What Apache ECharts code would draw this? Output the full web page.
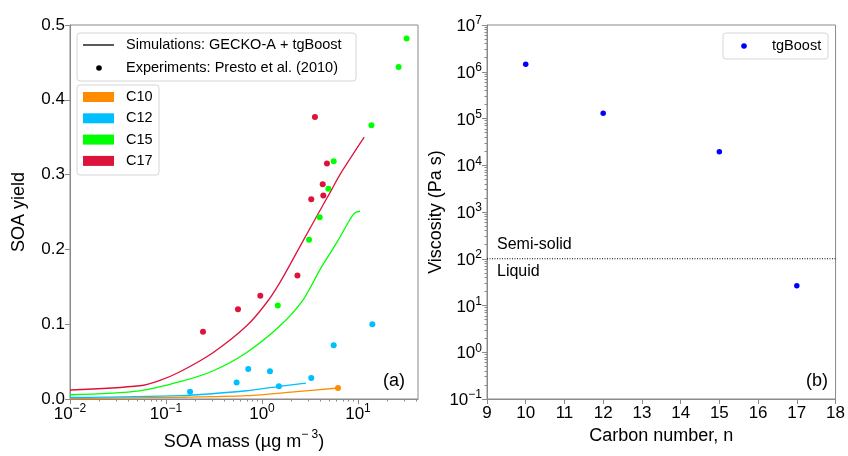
<!DOCTYPE html>
<html><head><meta charset="utf-8">
<script src="https://cdn.jsdelivr.net/npm/echarts@6/dist/echarts.min.js"></script>
<style>html,body{margin:0;padding:0;background:#fff}#c{width:848px;height:456px}</style>
</head><body><div id="c"></div>
<script>
// ---- Panel (a): simulations (lines) ----
const c10SimX = [0.01, 0.140, 0.693, 2.30, 6.19];
const c10SimY = [0.0005, 0.0023, 0.0044, 0.0098, 0.0147];
const c12SimX = [0.01, 0.140, 0.693, 1.54, 2.87];
const c12SimY = [0.002, 0.0044, 0.011, 0.017, 0.0213];
const c15SimX = [0.01, 0.0536, 0.140, 0.311, 0.693, 1.54, 2.69, 4.02, 6.00, 8.25, 9.31, 10.5];
const c15SimY = [0.0057, 0.011, 0.0231, 0.0378, 0.0622, 0.0978, 0.133, 0.173, 0.209, 0.240, 0.249, 0.251];
const c17SimX = [0.01, 0.0536, 0.0866, 0.140, 0.311, 0.693, 1.12, 1.54, 2.30, 3.42, 5.32, 6.49, 11.6];
const c17SimY = [0.012, 0.0177, 0.025, 0.0364, 0.0622, 0.0978, 0.129, 0.156, 0.196, 0.236, 0.280, 0.300, 0.350];
// ---- Panel (a): experiments (points) ----
const c10ExpX = [6.19];
const c10ExpY = [0.0147];
const c12ExpX = [0.178, 0.544, 0.719, 1.21, 1.50, 3.26, 5.58, 14.1];
const c12ExpY = [0.0097, 0.022, 0.040, 0.037, 0.017, 0.028, 0.072, 0.100];
const c15ExpX = [1.46, 3.09, 3.99, 4.91, 5.58, 13.8, 26.5, 32.1];
const c15ExpY = [0.125, 0.213, 0.243, 0.281, 0.318, 0.366, 0.444, 0.482];
const c17ExpX = [0.243, 0.562, 0.96, 2.34, 3.26, 3.56, 4.29, 4.35, 4.75];
const c17ExpY = [0.090, 0.120, 0.138, 0.165, 0.267, 0.377, 0.287, 0.272, 0.315];
// ---- Panel (b) ----
const carbonNumber = [10, 12, 15, 17];
const viscosity = [1.45e6, 1.3e5, 1.95e4, 26.6];
const semiSolidThreshold = 100;
// ---- tick helpers ----
const minorMult = [2, 3, 4, 5, 6, 7, 8, 9];
const leftMinorDecades = [0.01, 0.1, 1, 10];
const rightMinorDecades = [0.1, 1, 10, 100, 1e3, 1e4, 1e5, 1e6];

const catNames = ['C10', 'C12', 'C15', 'C17'];
const catColors = ['#ff8c00', '#00bfff', '#00ff00', '#dc143c'];
const simX = [c10SimX, c12SimX, c15SimX, c17SimX];
const simY = [c10SimY, c12SimY, c15SimY, c17SimY];
const expX = [c10ExpX, c12ExpX, c15ExpX, c17ExpX];
const expY = [c10ExpY, c12ExpY, c15ExpY, c17ExpY];

const FONT = 'Liberation Sans, Arial, sans-serif';
const AXC = '#8a8a8a';
const zip = (a, b) => a.map((v, i) => [v, b[i]]);
const leftMinor = [];
leftMinorDecades.forEach(d => minorMult.forEach(m => { const v = d * m; if (v < 42) leftMinor.push(v); }));
const rightMinor = [];
rightMinorDecades.forEach(d => minorMult.forEach(m => rightMinor.push(d * m)));

function powLabel(v) {
  const l = Math.log10(v), e = Math.round(l);
  if (Math.abs(l - e) > 1e-6) return '';
  return '{b|10}{s|' + (e < 0 ? '\u2212' + (-e) : e) + '}';
}
const powRich = {
  b: { fontSize: 17, fontFamily: FONT, color: '#000', verticalAlign: 'bottom', lineHeight: 20 },
  s: { fontSize: 12, fontFamily: FONT, color: '#000', verticalAlign: 'top', lineHeight: 20 }
};

const series = [];
catNames.forEach((n, i) => {
  series.push({
    name: n, type: 'line', xAxisIndex: 0, yAxisIndex: 0, data: zip(simX[i], simY[i]),
    showSymbol: false, smooth: 0.3, lineStyle: { color: catColors[i], width: 1.3 }, itemStyle: { color: catColors[i] }, z: 2
  });
});
catNames.forEach((n, i) => {
  series.push({
    name: n, type: 'scatter', xAxisIndex: 0, yAxisIndex: 0, data: zip(expX[i], expY[i]),
    symbolSize: 6, itemStyle: { color: catColors[i], opacity: 1 }, z: 3
  });
});
series.push({
  name: 'threshold', type: 'line', xAxisIndex: 2, yAxisIndex: 1,
  data: [[9, semiSolidThreshold], [18, semiSolidThreshold]], showSymbol: false,
  lineStyle: { color: '#000', width: 1, type: [1, 1.5] }, z: 2
});
series.push({
  name: 'tgBoost', type: 'scatter', xAxisIndex: 2, yAxisIndex: 1, data: zip(carbonNumber, viscosity),
  symbolSize: 5.5, itemStyle: { color: '#0000ff', opacity: 1 }, z: 3
});

const graphic = [
  // legend 1
  { type: 'rect', shape: { x: 77, y: 33, width: 279, height: 48, r: 3 }, style: { fill: '#fff', stroke: '#d6d6d6', lineWidth: 1 }, z: 10 },
  { type: 'line', shape: { x1: 83, y1: 45, x2: 114, y2: 45 }, style: { stroke: '#000', lineWidth: 1.3 }, z: 11 },
  { type: 'circle', shape: { cx: 99, cy: 68, r: 2.8 }, style: { fill: '#000' }, z: 11 },
  { type: 'text', x: 126, y: 45, style: { text: 'Simulations: GECKO-A + tgBoost', fontSize: 14.5, fontFamily: FONT, fill: '#000', verticalAlign: 'middle' }, z: 11 },
  { type: 'text', x: 126, y: 68, style: { text: 'Experiments: Presto et al. (2010)', fontSize: 14.5, fontFamily: FONT, fill: '#000', verticalAlign: 'middle' }, z: 11 },
  // legend 2
  { type: 'rect', shape: { x: 77, y: 85, width: 82, height: 90, r: 3 }, style: { fill: '#fff', stroke: '#d6d6d6', lineWidth: 1 }, z: 10 }
];
catNames.forEach((n, i) => {
  const cy = 97 + i * 21.3;
  graphic.push({ type: 'rect', shape: { x: 83, y: cy - 5, width: 31, height: 10 }, style: { fill: catColors[i] }, z: 11 });
  graphic.push({ type: 'text', x: 126, y: cy, style: { text: n, fontSize: 14.5, fontFamily: FONT, fill: '#000', verticalAlign: 'middle' }, z: 11 });
});
graphic.push(
  { type: 'text', x: 405, y: 381, style: { text: '(a)', fontSize: 18, fontFamily: FONT, fill: '#000', align: 'right', verticalAlign: 'middle' }, z: 11 },
  { type: 'text', x: 828, y: 381, style: { text: '(b)', fontSize: 18, fontFamily: FONT, fill: '#000', align: 'right', verticalAlign: 'middle' }, z: 11 },
  { type: 'text', x: 497, y: 245, style: { text: 'Semi-solid', fontSize: 16, fontFamily: FONT, fill: '#000', verticalAlign: 'middle' }, z: 11 },
  { type: 'text', x: 497, y: 272, style: { text: 'Liquid', fontSize: 16, fontFamily: FONT, fill: '#000', verticalAlign: 'middle' }, z: 11 },
  // legend 3
  { type: 'rect', shape: { x: 723, y: 33, width: 105, height: 26, r: 3 }, style: { fill: '#fff', stroke: '#d6d6d6', lineWidth: 1 }, z: 10 },
  { type: 'circle', shape: { cx: 744, cy: 46, r: 2.8 }, style: { fill: '#0000ff' }, z: 11 },
  { type: 'text', x: 772, y: 46, style: { text: 'tgBoost', fontSize: 14.5, fontFamily: FONT, fill: '#000', verticalAlign: 'middle' }, z: 11 }
);

const chart = echarts.init(document.getElementById('c'), null, { renderer: 'canvas' });
chart.setOption({
  animation: false,
  backgroundColor: '#fff',
  grid: [
    { left: 70, top: 25, width: 348, height: 375, show: true, borderColor: AXC, borderWidth: 1, containLabel: false },
    { left: 487, top: 25, width: 349, height: 374, show: true, borderColor: AXC, borderWidth: 1, containLabel: false }
  ],
  xAxis: [
    {
      type: 'log', gridIndex: 0, position: 'bottom', logBase: 10, min: 0.01, max: 42.17, splitNumber: 4,
      axisLine: { lineStyle: { color: AXC } }, axisTick: { length: 5, lineStyle: { color: AXC } },
      splitLine: { show: false },
      axisLabel: { formatter: powLabel, rich: powRich, margin: 4, showMaxLabel: false },
      name: '{n|SOA mass (\u00b5g m}{s|\u2212 3}{n|)}', nameLocation: 'middle', nameGap: 30,
      nameTextStyle: { rich: { n: { fontSize: 18, fontFamily: FONT, color: '#000', verticalAlign: 'bottom', lineHeight: 22 }, s: { fontSize: 12, fontFamily: FONT, color: '#000', verticalAlign: 'top', lineHeight: 22 } } }
    },
    {
      type: 'log', gridIndex: 0, position: 'bottom', logBase: 10, min: 0.01, max: 42.17,
      axisLine: { show: false }, splitLine: { show: false }, axisLabel: { show: false },
      axisTick: { length: 2.5, customValues: leftMinor, lineStyle: { color: AXC } }
    },
    {
      type: 'value', gridIndex: 1, position: 'bottom', min: 9, max: 18, interval: 1,
      axisLine: { lineStyle: { color: AXC } }, axisTick: { length: 5, lineStyle: { color: AXC } },
      splitLine: { show: false },
      axisLabel: { fontSize: 17, fontFamily: FONT, color: '#000', margin: 6 },
      name: 'Carbon number, n', nameLocation: 'middle', nameGap: 26,
      nameTextStyle: { fontSize: 18, fontFamily: FONT, color: '#000' }
    }
  ],
  yAxis: [
    {
      type: 'value', gridIndex: 0, position: 'left', min: 0, max: 0.5, interval: 0.1,
      axisLine: { lineStyle: { color: AXC } }, axisTick: { length: 5, lineStyle: { color: AXC } },
      splitLine: { show: false },
      axisLabel: { fontSize: 17, fontFamily: FONT, color: '#000', margin: 5, formatter: v => v.toFixed(1) },
      name: 'SOA yield', nameLocation: 'middle', nameGap: 42,
      nameTextStyle: { fontSize: 18, fontFamily: FONT, color: '#000' }
    },
    {
      type: 'log', gridIndex: 1, position: 'left', logBase: 10, min: 0.1, max: 1e7, splitNumber: 8,
      axisLine: { lineStyle: { color: AXC } }, axisTick: { length: 5, lineStyle: { color: AXC } },
      splitLine: { show: false },
      axisLabel: { formatter: powLabel, rich: powRich, margin: 5 },
      name: 'Viscosity (Pa s)', nameLocation: 'middle', nameGap: 40,
      nameTextStyle: { fontSize: 18, fontFamily: FONT, color: '#000' }
    },
    {
      type: 'log', gridIndex: 1, position: 'left', logBase: 10, min: 0.1, max: 1e7,
      axisLine: { show: false }, splitLine: { show: false }, axisLabel: { show: false },
      axisTick: { length: 2.5, customValues: rightMinor, lineStyle: { color: AXC } }
    }
  ],
  series: series,
  graphic: graphic
});
</script>
</body></html>
